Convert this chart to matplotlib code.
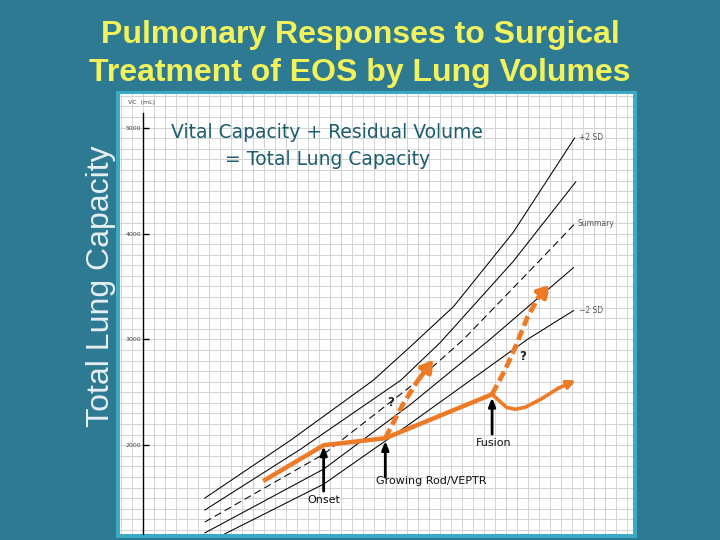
import matplotlib
matplotlib.use("Agg")
import matplotlib.pyplot as plt
from matplotlib.patches import Rectangle
from matplotlib.ticker import MultipleLocator
import numpy as np

# ---------------- data ----------------
title_lines = ["Pulmonary Responses to Surgical", "Treatment of EOS by Lung Volumes"]
y_label = "Total Lung Capacity"
panel_lines = ["Vital Capacity + Residual Volume", "= Total Lung Capacity"]
y_ticks = [2000, 3000, 4000, 5000]
y_tick_labels = ["2000", "3000", "4000", "5000"]

# normative curves (x in growth units, y = volume in mL)
plus2_x = [5.6, 13.4, 20.9, 24.3, 28.2, 33.6, 39.2]
plus2_y = [1500, 2047, 2613, 2933, 3310, 4008, 4903]
plus1_x = [5.6, 14.3, 23.4, 27.0, 33.6, 39.3]
plus1_y = [1387, 1962, 2613, 2971, 3734, 4488]
summary_x = [5.6, 16.4, 24.3, 29.1, 36.1, 39.3]
summary_y = [1274, 1915, 2556, 2999, 3753, 4102]
minus1_x = [5.6, 16.4, 24.3, 31.5, 39.1]
minus1_y = [1171, 1774, 2386, 2999, 3678]
minus2_x = [7.4, 16.4, 24.3, 34.9, 39.1]
minus2_y = [1161, 1632, 2207, 2999, 3272]
curve_labels = ["+2 SD", "Summary", "\u22122 SD"]

# patient course (orange)
course_x = [10.9, 16.4, 22.0, 31.7]
course_y = [1661, 2000, 2066, 2481]
after_fusion_x = [31.7, 32.4, 33.0, 33.8, 34.7, 36.1, 37.7, 39.3]
after_fusion_y = [2481, 2415, 2358, 2339, 2358, 2433, 2537, 2613]
rod_branch_x = [22.0, 22.5, 23.6, 24.9, 26.4]
rod_branch_y = [2066, 2170, 2386, 2603, 2811]
fusion_branch_x = [31.7, 32.9, 33.8, 34.9, 35.9, 37.0]
fusion_branch_y = [2481, 2716, 2924, 3206, 3395, 3517]

events = ["Onset", "Growing Rod/VEPTR", "Fusion"]
event_x = [16.4, 22.0, 31.7]
event_tip_y = [1990, 2040, 2450]
event_tail_y = [1566, 1698, 2104]

# ---------------- styling ----------------
TEAL = "#2d7a92"
CYAN = "#3aaac6"
ORANGE = "#ef7a26"
YELLOW = "#f2f25c"

W, H = 720, 540
fig = plt.figure(figsize=(7.2, 5.4), dpi=100, facecolor=TEAL)

def fx(px):
    return px / W

def fy(py):
    return 1 - py / H

# cyan frame around the white panel
frame = Rectangle((fx(116), fy(538)), (637 - 116) / W, (538 - 91) / H,
                  transform=fig.transFigure, facecolor=CYAN,
                  edgecolor="none", zorder=-5)
fig.patches.append(frame)

ax = fig.add_axes([fx(120), fy(534), (633 - 120) / W, (534 - 94) / H])
ax.set_zorder(2)
ax.set_facecolor("white")
ax.set_xlim(-2.1, 44.5)
ax.set_ylim(1161, 5318)

# grid
ax.xaxis.set_major_locator(MultipleLocator(1))
ax.yaxis.set_major_locator(MultipleLocator(1000))
ax.yaxis.set_minor_locator(MultipleLocator(100))
ax.grid(True, which="both", color="#d3d3d3", lw=0.7)
ax.set_axisbelow(True)
ax.set_yticks(y_ticks)
ax.set_yticklabels(y_tick_labels)
ax.tick_params(axis="x", length=0, labelbottom=False)
ax.tick_params(axis="y", which="major", direction="in", length=4, width=1,
               labelsize=4.5, pad=1.5, labelcolor="#444444")
ax.tick_params(axis="y", which="minor", length=0)
for s in ["top", "right", "bottom"]:
    ax.spines[s].set_visible(False)
ax.spines["left"].set_position(("data", 0))
ax.spines["left"].set_bounds(1161, 5140)
ax.spines["left"].set_linewidth(1.0)
ax.text(-1.4, 5233, "VC  (mL)", fontsize=4.5, color="#444444", va="center")

# normative curves
for cx, cy in [(plus2_x, plus2_y), (plus1_x, plus1_y), (minus1_x, minus1_y), (minus2_x, minus2_y)]:
    ax.plot(cx, cy, color="black", lw=0.75)
ax.plot(summary_x, summary_y, color="black", lw=0.75, ls=(0, (7, 4)))
ax.text(plus2_x[-1] + 0.4, plus2_y[-1], curve_labels[0], fontsize=5.5, color="#555555", va="center")
ax.text(summary_x[-1] + 0.2, summary_y[-1] - 10, curve_labels[1], fontsize=5.5, color="#555555", va="center")
ax.text(minus2_x[-1] + 0.5, minus2_y[-1], curve_labels[2], fontsize=5.5, color="#555555", va="center")

# patient course
ax.plot(course_x, course_y, color=ORANGE, lw=3.2, solid_capstyle="butt", zorder=5)
ax.plot(after_fusion_x[:-1], after_fusion_y[:-1], color=ORANGE, lw=2.6, zorder=5)
ax.annotate("", xy=(after_fusion_x[-1], after_fusion_y[-1]),
            xytext=(after_fusion_x[-2], after_fusion_y[-2]),
            arrowprops=dict(arrowstyle="-|>,head_length=0.5,head_width=0.25",
                            color=ORANGE, lw=2.6, shrinkA=0, shrinkB=0), zorder=5)
for bx, by in [(rod_branch_x, rod_branch_y), (fusion_branch_x, fusion_branch_y)]:
    ax.plot(bx[:-1], by[:-1], color=ORANGE, lw=3.4, ls=(0, (2.2, 1.0)), zorder=5)
    ax.annotate("", xy=(bx[-1], by[-1]), xytext=(bx[-2], by[-2]),
                arrowprops=dict(arrowstyle="-|>,head_length=0.7,head_width=0.4",
                                color=ORANGE, lw=3.4, ls=(0, (2.2, 1.0)),
                                shrinkA=0, shrinkB=0), zorder=5)
ax.text(22.5, 2400, "?", fontsize=8.5, fontweight="bold", color="#222222", ha="center", va="center", zorder=7)
ax.text(34.5, 2839, "?", fontsize=8.5, fontweight="bold", color="#222222", ha="center", va="center", zorder=7)

# event arrows
for name, ex, tip, tail in zip(events, event_x, event_tip_y, event_tail_y):
    ax.annotate("", xy=(ex, tip), xytext=(ex, tail),
                arrowprops=dict(arrowstyle="-|>,head_length=0.5,head_width=0.2",
                                color="black", lw=2.0, shrinkA=0, shrinkB=0), zorder=6)
ax.text(event_x[0], event_tail_y[0] - 40, events[0], fontsize=8, ha="center", va="top", color="#111111")
ax.text(26.2, 1661, events[1], fontsize=8, ha="center", va="center", color="#111111")
ax.text(31.8, 2019, events[2], fontsize=8, ha="center", va="center", color="#111111")

# panel text
ax.text(16.7, 4950, panel_lines[0], fontsize=13.5, color="#1b5d6d", ha="center", va="center",
        family="DejaVu Sans")
ax.text(16.8, 4696, panel_lines[1], fontsize=13.5, color="#1b5d6d", ha="center", va="center",
        family="DejaVu Sans")

# title and y label on the slide
fig.text(0.5, fy(35), title_lines[0], fontsize=23, fontweight="bold", color=YELLOW,
         ha="center", va="center", family="Liberation Sans")
fig.text(0.5, fy(73), title_lines[1], fontsize=23, fontweight="bold", color=YELLOW,
         ha="center", va="center", family="Liberation Sans")
fig.text(fx(101), fy(286), y_label, fontsize=23, rotation=90, color="#e6eef2",
         ha="center", va="center", family="Liberation Sans")

fig.savefig("out.png", dpi=100, facecolor=fig.get_facecolor())
